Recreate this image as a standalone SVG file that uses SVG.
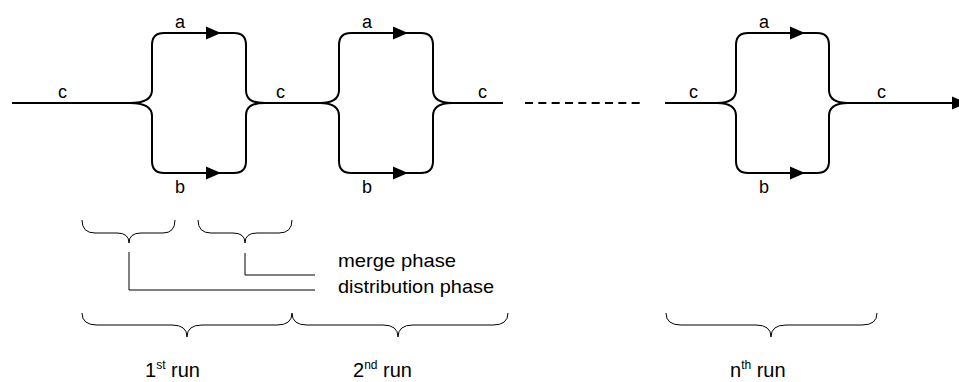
<svg xmlns="http://www.w3.org/2000/svg" xmlns:xlink="http://www.w3.org/1999/xlink" width="959" height="382" viewBox="0 0 959 382">
<style>
.flow{fill:none;stroke:#000;stroke-width:2}
.dash{fill:none;stroke:#000;stroke-width:2;stroke-dasharray:8 5.33}
.brace{fill:none;stroke:#000;stroke-width:1}
.lead{fill:none;stroke:#000;stroke-width:1}
.lbl{font-family:"Liberation Sans",Arial,sans-serif;font-size:18px;fill:#000}
.txt{font-family:"Liberation Sans",Arial,sans-serif;font-size:19px;fill:#000}
.run{font-family:"Liberation Sans",Arial,sans-serif;font-size:20px;fill:#000}
.sup{font-size:12px}
</style>
<defs>
<path id="arr" d="M-15,-6.5 L0,0 L-15,6.5 Z" fill="#000"/>
</defs>
<g id="connectors">
<path class="flow" d="M12,103 H130"/>
<path class="flow" d="M265,103 H320"/>
<path class="flow" d="M452,103 H503"/>
<path class="dash" d="M525,103 H640"/>
<path class="flow" d="M665,103 H717"/>
<path class="flow" d="M848,103 H959"/>
<use xlink:href="#arr" x="967" y="103"/>
<path class="flow" d="M130,103 C144,103 152,99 152,90 V45 Q152,33 164,33 H234 Q246,33 246,45 V90 C246,99 251,103 265,103"/>
<path class="flow" d="M130,103 C144,103 152,107 152,116 V161 Q152,173 164,173 H234 Q246,173 246,161 V116 C246,107 251,103 265,103"/>
<use xlink:href="#arr" x="221" y="33"/>
<use xlink:href="#arr" x="221" y="173"/>
<path class="flow" d="M320,103 C333,103 339,99 339,90 V45 Q339,33 351,33 H421 Q433,33 433,45 V90 C433,99 439,103 452,103"/>
<path class="flow" d="M320,103 C333,103 339,107 339,116 V161 Q339,173 351,173 H421 Q433,173 433,161 V116 C433,107 439,103 452,103"/>
<use xlink:href="#arr" x="408" y="33"/>
<use xlink:href="#arr" x="408" y="173"/>
<path class="flow" d="M717,103 C730,103 736,99 736,90 V45 Q736,33 748,33 H817 Q829,33 829,45 V90 C829,99 835,103 848,103"/>
<path class="flow" d="M717,103 C730,103 736,107 736,116 V161 Q736,173 748,173 H817 Q829,173 829,161 V116 C829,107 835,103 848,103"/>
<use xlink:href="#arr" x="805" y="33"/>
<use xlink:href="#arr" x="805" y="173"/>
<path class="lead" d="M129,252 V290 H315"/>
<path class="lead" d="M245,253 V275 H315"/>
</g>
<g id="labels">
<text class="lbl" x="58" y="98">c</text>
<text class="lbl" x="175" y="28">a</text>
<text class="lbl" x="175" y="193">b</text>
<text class="lbl" x="276" y="98">c</text>
<text class="lbl" x="362" y="28">a</text>
<text class="lbl" x="362" y="193">b</text>
<text class="lbl" x="478" y="98">c</text>
<text class="lbl" x="689" y="98">c</text>
<text class="lbl" x="759" y="28">a</text>
<text class="lbl" x="759" y="193">b</text>
<text class="lbl" x="877" y="98">c</text>
</g>
<g id="distribution-brace">
<path class="brace" d="M82,220 Q82,233 95,233 H117 Q129,233 129,243 Q129,233 141,233 H163 Q175,233 175,220"/>
</g>
<g id="merge-brace">
<path class="brace" d="M198,220 Q198,233 211,233 H233 Q245,233 245,243 Q245,233 257,233 H279 Q292,233 292,220"/>
</g>
<g id="phase-labels">
<text class="txt" x="338" y="267" textLength="118" lengthAdjust="spacingAndGlyphs">merge phase</text>
<text class="txt" x="338" y="293" textLength="156" lengthAdjust="spacingAndGlyphs">distribution phase</text>
</g>
<g id="run1">
<path class="brace" d="M82,313 Q82,325 97,325 H172 Q187,325 187,337 Q187,325 202,325 H277 Q292,325 292,313"/>
<text class="run" x="145" y="377">1<tspan class="sup" dy="-8">st</tspan><tspan dy="8"> run</tspan></text>
</g>
<g id="run2">
<path class="brace" d="M292,313 Q292,325 307,325 H383 Q398,325 398,337 Q398,325 413,325 H493 Q508,325 508,313"/>
<text class="run" x="353" y="377">2<tspan class="sup" dy="-8">nd</tspan><tspan dy="8"> run</tspan></text>
</g>
<g id="runN">
<path class="brace" d="M666,313 Q666,325 681,325 H756 Q771,325 771,337 Q771,325 786,325 H862 Q877,325 877,313"/>
<text class="run" x="730" y="377">n<tspan class="sup" dy="-8">th</tspan><tspan dy="8"> run</tspan></text>
</g>
</svg>
